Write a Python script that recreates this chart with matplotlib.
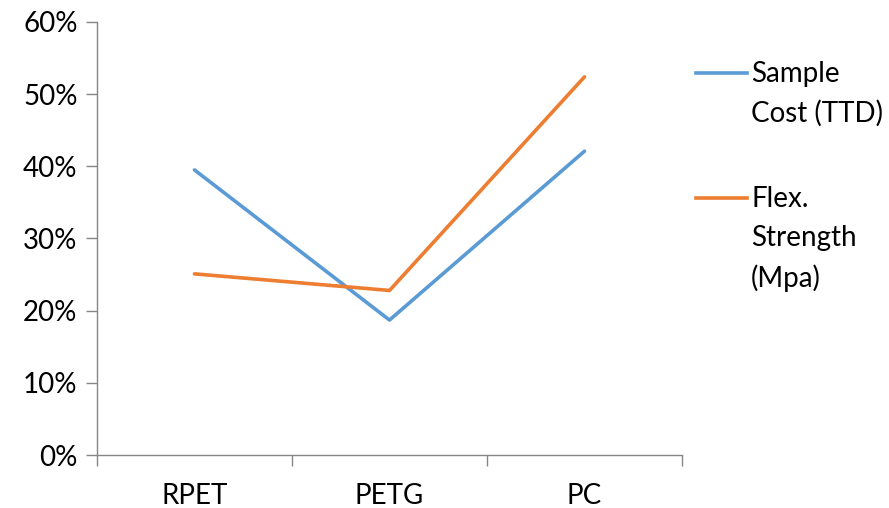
import matplotlib
matplotlib.use("Agg")
import matplotlib.pyplot as plt
from matplotlib.lines import Line2D
from matplotlib.ticker import PercentFormatter

plt.rcParams['font.family'] = ['Lato', 'DejaVu Sans']

materials = ["RPET", "PETG", "PC"]
sample_cost = [39.5, 18.7, 42.1]
flex_strength = [25.1, 22.8, 52.4]
series_names = ["Sample\nCost (TTD)", "Flex.\nStrength\n(Mpa)"]
colors = ["#5B9BD5", "#ED7D31"]

fig = plt.figure(figsize=(8.89, 5.08), dpi=100)
ax = fig.add_axes([97 / 889, 53 / 508, 585 / 889, 433 / 508])

x = range(len(materials))
ax.plot(x, sample_cost, color=colors[0], lw=2.6, solid_capstyle="round")
ax.plot(x, flex_strength, color=colors[1], lw=2.6, solid_capstyle="round")

ax.set_xlim(-0.5, 2.5)
ax.set_ylim(0, 60)
ax.set_yticks(range(0, 61, 10))
ax.yaxis.set_major_formatter(PercentFormatter(decimals=0))
ax.set_xticks(list(x))
ax.set_xticklabels(materials)
ax.set_xticks([-0.5, 0.5, 1.5, 2.5], minor=True)
ax.tick_params(axis="x", which="major", length=0, pad=20, labelsize=20)
ax.tick_params(axis="x", which="minor", length=8, color="#868686", width=1)
ax.tick_params(axis="y", length=8, color="#868686", width=1, labelsize=20, pad=6)

for s in ["top", "right"]:
    ax.spines[s].set_visible(False)
for s in ["left", "bottom"]:
    ax.spines[s].set_color("#868686")
    ax.spines[s].set_linewidth(1)

# legend on the right, handle level with first text line
legend_y = [73, 198]
for name, c, yy in zip(series_names, colors, legend_y):
    fy = 1 - yy / 508
    fig.add_artist(Line2D([696 / 889, 747 / 889], [fy, fy], color=c, lw=2.6,
                          transform=fig.transFigure))
    fig.text(751 / 889, fy + 12 / 508, name, fontsize=20, va="top", ha="left",
             linespacing=1.6)

fig.savefig("out.png", dpi=100)
